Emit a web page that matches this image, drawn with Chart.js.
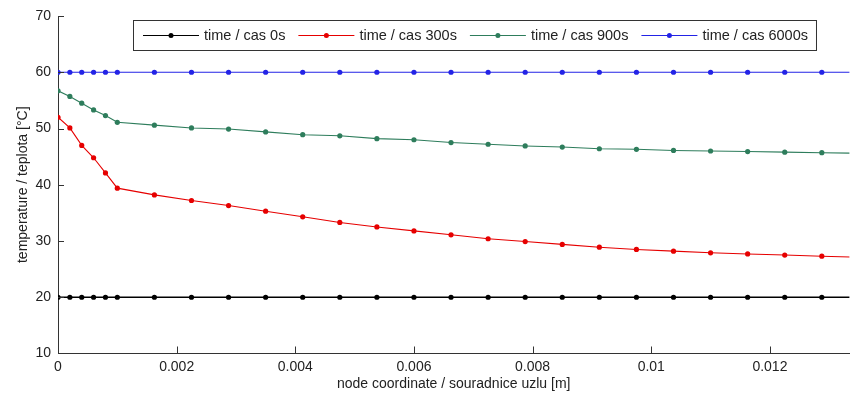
<!DOCTYPE html>
<html>
<head>
<meta charset="utf-8">
<script src="https://cdn.jsdelivr.net/npm/chart.js@4.4.1/dist/chart.umd.min.js"></script>
<style>
  html, body { margin: 0; padding: 0; background: #fff; }
  #wrap { width: 852px; height: 396px; position: relative; }
</style>
</head>
<body>
<div id="wrap"><canvas id="myChart"></canvas></div>
<script>
// node coordinates [m]
const nodeX = [0, 0.0002, 0.0004, 0.0006, 0.0008, 0.001,
    0.001625, 0.00225, 0.002875, 0.0035, 0.004125, 0.00475, 0.005375, 0.006,
    0.006625, 0.00725, 0.007875, 0.0085, 0.009125, 0.00975, 0.010375, 0.011,
    0.011625, 0.01225, 0.012875, 0.0135];

// temperatures [°C]
const temp0s = [20, 20, 20, 20, 20, 20, 20, 20, 20, 20, 20, 20, 20, 20,
    20, 20, 20, 20, 20, 20, 20, 20, 20, 20, 20, 20];
const temp300s = [52.0, 50.1, 47.0, 44.8, 42.1, 39.4, 38.2, 37.2, 36.3, 35.3,
    34.3, 33.3, 32.5, 31.8, 31.1, 30.4, 29.9, 29.4, 28.9, 28.5, 28.2, 27.9,
    27.7, 27.5, 27.3, 27.1];
const temp900s = [56.7, 55.7, 54.5, 53.3, 52.3, 51.1, 50.6, 50.1, 49.9, 49.4,
    48.9, 48.7, 48.2, 48.0, 47.5, 47.2, 46.9, 46.7, 46.4, 46.3, 46.1, 46.0,
    45.9, 45.8, 45.7, 45.6];
const temp6000s = [60, 60, 60, 60, 60, 60, 60, 60, 60, 60, 60, 60, 60, 60,
    60, 60, 60, 60, 60, 60, 60, 60, 60, 60, 60, 60];

const seriesLabels = ['time / cas 0s', 'time / cas 300s', 'time / cas 900s', 'time / cas 6000s'];
const seriesColors = ['#000000', '#e60000', '#2e7d5c', '#2323e6'];
const xTicks = [0, 0.002, 0.004, 0.006, 0.008, 0.01, 0.012];
const yTicks = [10, 20, 30, 40, 50, 60, 70];

const FONT = '"Liberation Sans", Arial, sans-serif';

function pts(ys) {
    return nodeX.map(function(x, i) { return {x: x, y: ys[i]}; });
}

// inward tick marks like matlab
const innerTicks = {
    id: 'innerTicks',
    afterDraw(chart) {
        const ctx = chart.ctx, a = chart.chartArea;
        const xs = chart.scales.x, ys = chart.scales.y;
        ctx.save();
        ctx.strokeStyle = '#333';
        ctx.lineWidth = 1;
        ctx.beginPath();
        xTicks.forEach(function(v) {
            if (v === 0) return;
            const px = Math.round(xs.getPixelForValue(v)) + 0.5;
            ctx.moveTo(px, a.bottom);
            ctx.lineTo(px, a.bottom - 7);
        });
        yTicks.forEach(function(v) {
            if (v === 10) return;
            const py = Math.round(ys.getPixelForValue(v)) + 0.5;
            ctx.moveTo(a.left, py);
            ctx.lineTo(a.left + 6, py);
        });
        ctx.stroke();
        ctx.restore();
    }
};

// legend box with line + marker samples
const boxLegend = {
    id: 'boxLegend',
    afterDraw(chart) {
        const ctx = chart.ctx;
        const left = 133, top = 20, h = 30;
        const sample = 56, gapText = 5, gapItem = 13;
        ctx.save();
        ctx.font = '14.5px ' + FONT;
        let x = left + 10;
        const items = chart.data.datasets.map(function(ds) {
            const w = ctx.measureText(ds.label).width;
            const it = {x: x, w: w, ds: ds};
            x += sample + gapText + w + gapItem;
            return it;
        });
        const right = x - gapItem + 8;
        ctx.fillStyle = '#fff';
        ctx.fillRect(left, top, right - left, h);
        ctx.strokeStyle = '#333';
        ctx.lineWidth = 1;
        ctx.strokeRect(left + 0.5, top + 0.5, right - left, h);
        const cy = top + h / 2 + 0.5;
        items.forEach(function(it) {
            ctx.strokeStyle = it.ds.borderColor;
            ctx.lineWidth = 1;
            ctx.beginPath();
            ctx.moveTo(it.x, cy);
            ctx.lineTo(it.x + sample, cy);
            ctx.stroke();
            ctx.fillStyle = it.ds.borderColor;
            ctx.beginPath();
            ctx.arc(it.x + sample / 2, cy, 2.5, 0, Math.PI * 2);
            ctx.fill();
            ctx.fillStyle = '#222';
            ctx.textBaseline = 'middle';
            ctx.fillText(it.ds.label, it.x + sample + gapText, cy);
        });
        ctx.restore();
    }
};

function makeDataset(i, ys) {
    return {
        label: seriesLabels[i],
        data: pts(ys),
        borderColor: seriesColors[i],
        backgroundColor: seriesColors[i],
        borderWidth: i === 0 ? 1.4 : 1.1,
        pointRadius: 2.6,
        pointHoverRadius: 2.6,
        pointBorderWidth: 0,
        tension: 0
    };
}

new Chart(document.getElementById('myChart'), {
    type: 'line',
    data: {
        datasets: [
            makeDataset(0, temp0s),
            makeDataset(1, temp300s),
            makeDataset(2, temp900s),
            makeDataset(3, temp6000s)
        ]
    },
    options: {
        responsive: true,
        maintainAspectRatio: false,
        animation: false,
        layout: { padding: { top: 16, right: 0, left: 0, bottom: 0 } },
        plugins: {
            legend: { display: false },
            tooltip: { enabled: false }
        },
        scales: {
            x: {
                type: 'linear',
                min: 0,
                max: 0.01334,
                afterFit: function(s) { s.height = 42.5; },
                afterBuildTicks: function(s) { s.ticks = xTicks.map(function(v) { return {value: v}; }); },
                grid: { display: true, drawOnChartArea: false, drawTicks: false },
                border: { display: true, color: '#333', width: 1 },
                ticks: {
                    padding: 5,
                    color: '#222',
                    maxRotation: 0,
                    font: { family: FONT, size: 14 },
                    callback: function(v) { return String(Number(v.toFixed(4))); }
                },
                title: {
                    display: true,
                    text: 'node coordinate / souradnice uzlu [m]',
                    color: '#222',
                    font: { family: FONT, size: 14 },
                    padding: { top: 0, bottom: 3 }
                }
            },
            y: {
                type: 'linear',
                min: 10,
                max: 70,
                afterFit: function(s) { s.width = 58; },
                afterBuildTicks: function(s) { s.ticks = yTicks.map(function(v) { return {value: v}; }); },
                grid: { display: true, drawOnChartArea: false, drawTicks: false },
                border: { display: true, color: '#333', width: 1 },
                ticks: {
                    padding: 7,
                    color: '#222',
                    font: { family: FONT, size: 14 }
                },
                title: {
                    display: true,
                    text: 'temperature / teplota [°C]',
                    color: '#222',
                    font: { family: FONT, size: 14 },
                    padding: { top: 15, bottom: 0 }
                }
            }
        }
    },
    plugins: [innerTicks, boxLegend]
});
</script>
</body>
</html>
